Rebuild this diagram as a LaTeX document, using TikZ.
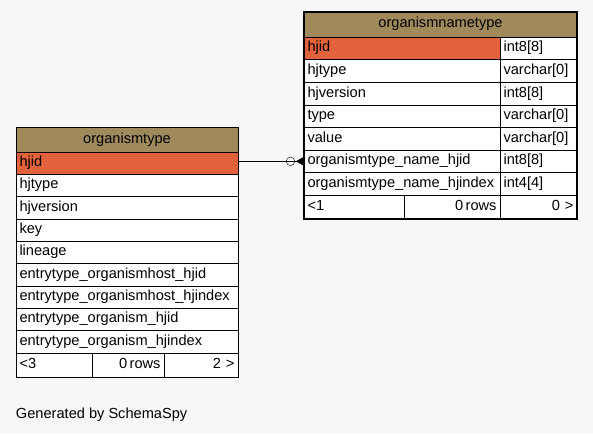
\documentclass[tikz,border=0pt]{standalone}
\usepackage{fontspec}
\setmainfont{Liberation Sans}
\usetikzlibrary{arrows.meta,positioning}
\definecolor{headtan}{HTML}{A08A5C}
\definecolor{keyred}{HTML}{E2623B}
\definecolor{pagegray}{HTML}{F7F7F7}

\begin{document}
\begin{tikzpicture}[x=1pt, y=-1pt, node distance=0pt,
    every node/.style={font=\fontsize{14.6}{17}\selectfont, outer sep=0pt, inner xsep=3.5pt, text height=10pt, text depth=3pt},
    tcell/.style 2 args={draw, fill=white, text width=#1, minimum height=#2, align=left},
    keycell/.style 2 args={tcell={#1}{#2}, fill=keyred},
    headcell/.style={draw, fill=headtan, text width=#1, minimum height=25pt, align=center},
    footcell/.style 2 args={draw, fill=white, text width=#1, minimum height=24pt, align=#2}]
    \fill[pagegray] (0,0) rectangle (593,433);
    \useasboundingbox (0,0) rectangle (593,433);

    % organismnametype
    \node[headcell=266pt, anchor=north west] (rh) at (304,12) {organismnametype};
    \node[keycell={189pt}{22.6pt}, anchor=north west] (rn1) at (rh.south west) {hjid};
    \node[tcell={189pt}{22.6pt}, below=of rn1] (rn2) {hjtype};
    \node[tcell={189pt}{22.6pt}, below=of rn2] (rn3) {hjversion};
    \node[tcell={189pt}{22.6pt}, below=of rn3] (rn4) {type};
    \node[tcell={189pt}{22.6pt}, below=of rn4] (rn5) {value};
    \node[tcell={189pt}{22.6pt}, below=of rn5] (rn6) {organismtype\_name\_hjid};
    \node[tcell={189pt}{22.6pt}, below=of rn6] (rn7) {organismtype\_name\_hjindex};
    \node[tcell={70pt}{22.6pt}, right=of rn1] (rt1) {int8[8]};
    \node[tcell={70pt}{22.6pt}, right=of rn2] (rt2) {varchar[0]};
    \node[tcell={70pt}{22.6pt}, right=of rn3] (rt3) {int8[8]};
    \node[tcell={70pt}{22.6pt}, right=of rn4] (rt4) {varchar[0]};
    \node[tcell={70pt}{22.6pt}, right=of rn5] (rt5) {varchar[0]};
    \node[tcell={70pt}{22.6pt}, right=of rn6] (rt6) {int8[8]};
    \node[tcell={70pt}{22.6pt}, right=of rn7] (rt7) {int4[4]};
    \node[footcell={93pt}{left}, anchor=north west] (rf1) at (rn7.south west) {<1};
    \node[footcell={89pt}{right}, right=of rf1] (rf2) {0\,rows};
    \node[footcell={70pt}{right}, right=of rf2] (rf3) {0 >};
    \draw[line width=2.5pt] (rh.north west) rectangle (rf3.south east);

    % organismtype
    \node[headcell=215pt, anchor=north west] (lh) at (16,127) {organismtype};
    \node[keycell={215pt}{22.3pt}, below=of lh] (ln1) {hjid};
    \node[tcell={215pt}{22.3pt}, below=of ln1] (ln2) {hjtype};
    \node[tcell={215pt}{22.3pt}, below=of ln2] (ln3) {hjversion};
    \node[tcell={215pt}{22.3pt}, below=of ln3] (ln4) {key};
    \node[tcell={215pt}{22.3pt}, below=of ln4] (ln5) {lineage};
    \node[tcell={215pt}{22.3pt}, below=of ln5] (ln6) {entrytype\_organismhost\_hjid};
    \node[tcell={215pt}{22.3pt}, below=of ln6] (ln7) {entrytype\_organismhost\_hjindex};
    \node[tcell={215pt}{22.3pt}, below=of ln7] (ln8) {entrytype\_organism\_hjid};
    \node[tcell={215pt}{22.3pt}, below=of ln8] (ln9) {entrytype\_organism\_hjindex};
    \node[footcell={69pt}{left}, anchor=north west] (lf1) at (ln9.south west) {<3};
    \node[footcell={65pt}{right}, right=of lf1] (lf2) {0\,rows};
    \node[footcell={67pt}{right}, right=of lf2] (lf3) {2 >};

    \draw[-{Circle[open,length=9pt,width=9pt,sep=1pt] Triangle[reversed,length=8pt,width=9pt]}] (ln1.east |- rn6.west) -- (rn6.west);

    \node[anchor=base west, inner xsep=0pt] (gen) at (16,418) {Generated by SchemaSpy};
\end{tikzpicture}
\end{document}
